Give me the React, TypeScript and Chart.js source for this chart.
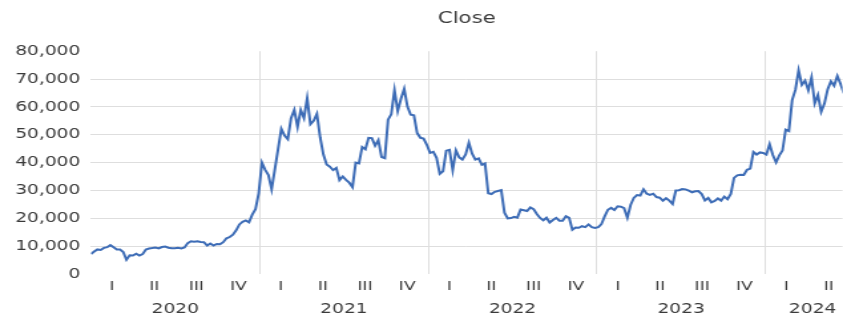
import React, { useEffect, useRef } from "react";
import { Chart, registerables } from "chart.js";

Chart.register(...registerables);

// ---- data (weekly closes, first date 2020-01-01, 7-day step) ----
const firstDate = "2020-01-01";
const stepDays = 7;

const close2020 = [
  7200, 8050, 8820, 8650, 9380, 9620, 10350, 9600, 8790, 8760, 7900, 5100, 6700,
  6640, 7300, 6640, 7130, 8800, 9160, 9310, 9520, 9200, 9670, 9870, 9450, 9280,
  9230, 9430, 9200, 9530, 11100, 11750, 11590, 11750, 11480, 11400, 10240, 10950,
  10240, 10780, 10670, 11430, 12820, 13270, 14140, 15700, 17800, 18730, 19220,
  18550, 21310, 23240, 28950,
];
const close2021 = [
  40000, 37400, 35500, 30400, 37600, 44800, 52100, 49700, 48400, 55900, 58900,
  52800, 58900, 56000, 63100, 53800, 55000, 57500, 49100, 42900, 39300, 38500,
  37300, 38100, 33700, 35000, 33800, 32800, 31200, 40000, 39700, 45600, 44800,
  48900, 48800, 46100, 48100, 42000, 41600, 55400, 57400, 65990, 58500, 62900,
  66500, 60100, 57200, 57000, 50600, 48900, 48600, 46400,
];
const close2022 = [
  43500, 43900, 41700, 36000, 36900, 44300, 44600, 37300, 44400, 41900, 41100,
  42900, 47100, 43200, 41100, 41500, 39200, 39700, 29000, 28700, 29500, 29800,
  30100, 22000, 19970, 20100, 20550, 20230, 23160, 22900, 22600, 23900, 23300,
  21530, 20130, 19300, 20200, 18500, 19400, 20160, 19150, 19120, 20770, 20160,
  15880, 16670, 16600, 17160, 16840, 17800, 16820, 16550,
];
const close2023 = [
  16850, 17940, 20680, 23060, 23730, 22960, 24330, 24170, 23650, 20200, 24770,
  27300, 28350, 28170, 30390, 28800, 28430, 28850, 27630, 27400, 26330, 27220,
  26350, 25120, 30000, 30080, 30500, 30390, 29900, 29350, 29700, 29760, 28700,
  26430, 27300, 25750, 26230, 27130, 26350, 27790, 26870, 28710, 34500, 35420,
  35650, 35550, 37420, 37860, 43800, 42900, 43650, 43450,
];
const close2024 = [
  42850, 46600, 42750, 40080, 42580, 44340, 51840, 51300, 62430, 66100, 73080,
  67910, 69450, 65980, 70600, 61280, 64280, 58250, 61190, 66270, 69170, 67580,
  71080, 68240, 64900,
];

const yearLabels = ["2020", "2021", "2022", "2023", "2024"];
const yearLabelPositions = [2020.5, 2021.5, 2022.5, 2023.5, 2024.28];
const quarterLabels = ["I", "II", "III", "IV"];
const yTicks = [0, 10000, 20000, 30000, 40000, 50000, 60000, 70000, 80000];
const xMin = 2020;
const xMax = 2024.457;

// ---- styling ----
const FONT = "DejaVu Sans";
const TEXT = "#3a3a3a";
const LINE = "#3d6cb6";
const GRID = "#dedede";
const STRETCH = 843 / 634;

function toYearFraction(t: number): number {
  const d = new Date(t);
  const y = d.getUTCFullYear();
  const s = Date.UTC(y, 0, 1);
  const e = Date.UTC(y + 1, 0, 1);
  return y + (t - s) / (e - s);
}

export default function App() {
  const ref = useRef<HTMLCanvasElement | null>(null);

  useEffect(() => {
    if (!ref.current) return;
    const closes = [...close2020, ...close2021, ...close2022, ...close2023, ...close2024];
    const t0 = Date.parse(firstDate + "T00:00:00Z");
    const points = closes.map((v, i) => ({
      x: toYearFraction(t0 + i * stepDays * 86400000),
      y: v,
    }));

    const years = yearLabels.map((y) => Number(y));
    const xTickValues: number[] = [];
    years.forEach((y, yi) => {
      if (yi > 0) xTickValues.push(y);
      quarterLabels.forEach((_, q) => {
        const v = y + (q + 0.5) / 4;
        if (v <= xMax) xTickValues.push(v);
      });
    });

    const chart = new Chart(ref.current, {
      type: "line",
      data: {
        datasets: [
          {
            data: points,
            borderColor: LINE,
            borderWidth: 2,
            pointRadius: 0,
            tension: 0,
            fill: false,
          },
        ],
      },
      options: {
        animation: false,
        responsive: false,
        devicePixelRatio: 1,
        events: [],
        layout: { padding: 0 },
        plugins: {
          legend: { display: false },
          tooltip: { enabled: false },
          title: {
            display: true,
            text: "Close",
            fullSize: false,
            color: TEXT,
            font: { family: FONT, size: 16, weight: "normal" },
            padding: { top: 9, bottom: 23 },
          },
        },
        scales: {
          x: {
            type: "linear",
            position: "bottom",
            weight: 0,
            min: xMin,
            max: xMax,
            afterBuildTicks: (s: any) => {
              s.ticks = xTickValues.map((value) => ({ value }));
            },
            afterFit: (s: any) => {
              s.height = 22;
            },
            grid: {
              drawTicks: false,
              lineWidth: 1,
              color: (ctx: any) =>
                ctx.tick && Number.isInteger(ctx.tick.value) ? GRID : "rgba(0,0,0,0)",
            },
            border: { display: false },
            ticks: {
              autoSkip: false,
              maxRotation: 0,
              padding: 5,
              color: TEXT,
              font: { family: FONT, size: 13 },
              callback: (v: any) => {
                const n = Number(v);
                if (Number.isInteger(n)) return "";
                const q = Math.round((n - Math.floor(n)) * 4 - 0.5);
                return quarterLabels[q];
              },
            },
          },
          x2: {
            type: "linear",
            position: "bottom",
            weight: 1,
            min: xMin,
            max: xMax,
            afterBuildTicks: (s: any) => {
              s.ticks = yearLabelPositions.map((value) => ({ value }));
            },
            afterFit: (s: any) => {
              s.height = 20;
            },
            grid: { display: false, drawTicks: false },
            border: { display: false },
            ticks: {
              autoSkip: false,
              maxRotation: 0,
              padding: 5,
              color: TEXT,
              font: { family: FONT, size: 14 },
              callback: (_v: any, i: number) => yearLabels[i],
            },
          },
          y: {
            type: "linear",
            min: 0,
            max: 80000,
            afterBuildTicks: (s: any) => {
              s.ticks = yTicks.map((value) => ({ value }));
            },
            afterFit: (s: any) => {
              s.width = 91 / STRETCH;
            },
            grid: {
              drawTicks: false,
              lineWidth: 1,
              color: (ctx: any) =>
                ctx.tick && (ctx.tick.value === 0 || ctx.tick.value === 80000)
                  ? "rgba(0,0,0,0)"
                  : GRID,
            },
            border: { display: false },
            ticks: {
              padding: 8,
              color: TEXT,
              font: { family: FONT, size: 14 },
              callback: (v: any) => Number(v).toLocaleString("en-US"),
            },
          },
        },
      },
    } as any);
    return () => chart.destroy();
  }, []);

  return (
    <div style={{ position: "fixed", left: 0, top: 0, width: 843, height: 316, background: "#fff" }}>
      <canvas
        ref={ref}
        width={634}
        height={316}
        style={{ width: "843px", height: "316px", display: "block" }}
      />
    </div>
  );
}
